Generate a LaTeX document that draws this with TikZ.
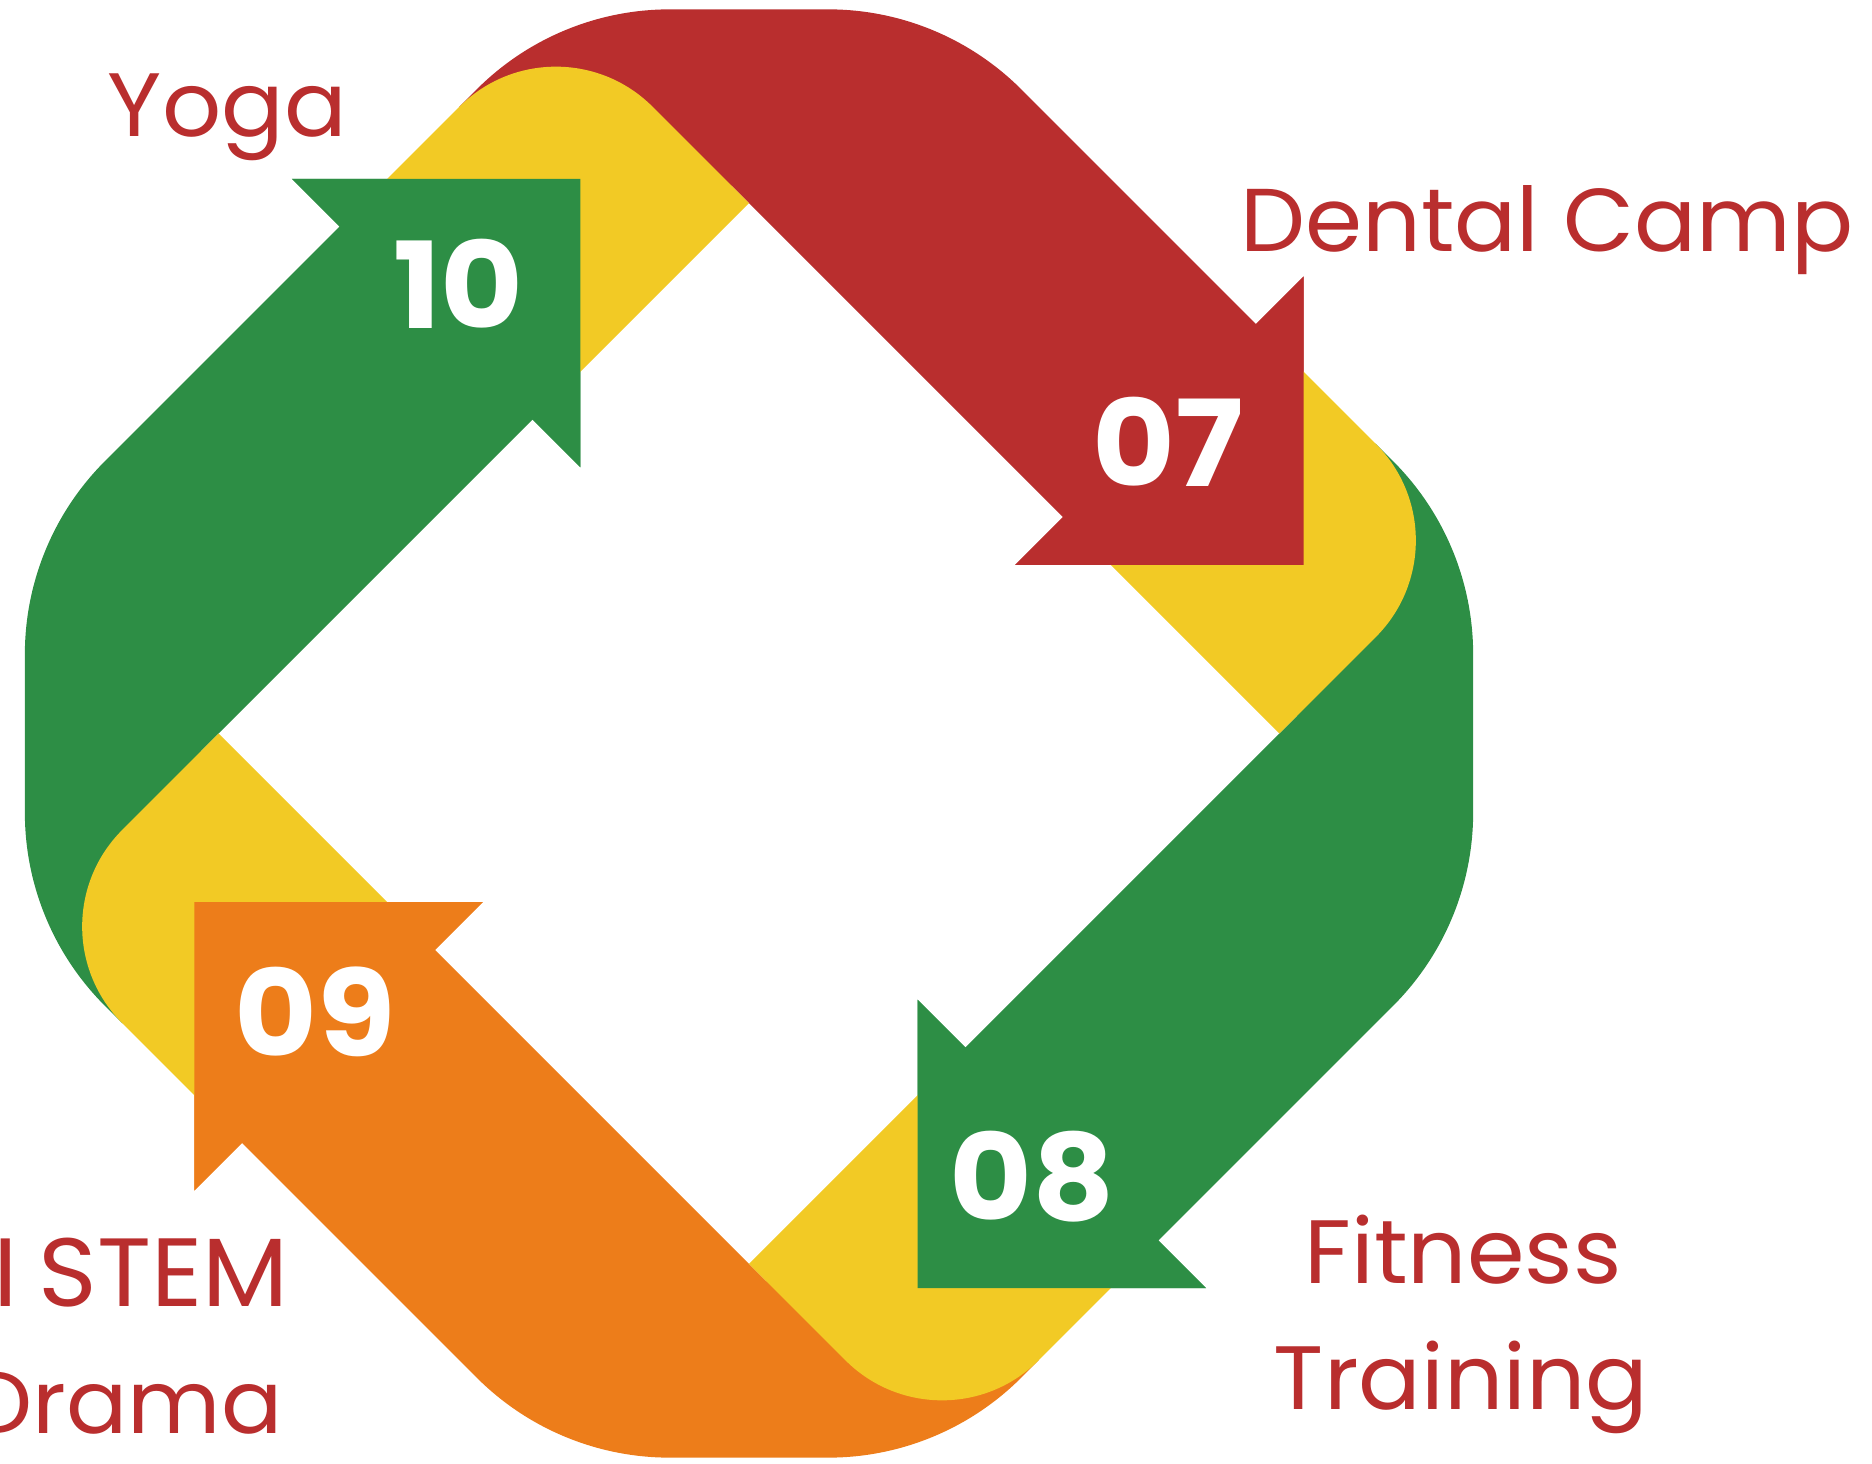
\documentclass[tikz,border=0pt]{standalone}
\usepackage{fontspec}
\setmainfont{Poppins}
\newfontfamily\stepfont{Poppins}[FakeStretch=1.06]
\newfontfamily\labelfont{Poppins}[FakeStretch=1.03]
\usepackage{xcolor}
\usetikzlibrary{calc}
\definecolor{loopred}{RGB}{185,46,46}
\definecolor{loopgreen}{RGB}{45,142,69}
\definecolor{looporange}{RGB}{237,125,26}
\definecolor{loopyellow}{RGB}{242,202,37}
\tikzset{
  band/.style={fill=#1},                 % one coloured arm of the loop
  fold/.style={fill=loopyellow},         % yellow turn under each head
  stepnum/.style={text=white, inner sep=0pt, font=\stepfont\fontsize{60}{72}\selectfont\bfseries},
  steplabel/.style={text=loopred, inner sep=0pt, font=\labelfont\fontsize{45}{54}\selectfont},
  biglabel/.style={steplabel, font=\labelfont\fontsize{48.5}{58}\selectfont}
}
% rotated frame: each arm turns the corner and runs along the top to its head
\newcommand{\DrawArm}[2]{%
  \fill[band=#1, rotate=#2] (-400,150) -- (-600,150) -- (-648,238.5) -- (-648,263)
    arc[start angle=180, end angle=135, radius=273] -- (-456.04,568.04)
    arc[start angle=135, end angle=90, radius=273] -- (69,648)
    -- (69,715.5) -- (273,511.5) -- (69,307.5) -- (69,375)
    -- (-400,375) -- cycle;%
}
\newcommand{\DrawFold}[1]{%
  \fill[fold, rotate=#1] (-375,100) -- (-375,375) -- (-511.5,375)
    arc[start angle=90, end angle=180, radius=136.5] -- (-648,100) -- cycle;%
}
\newcommand{\DrawHead}[2]{%
  \fill[band=#1, rotate=#2] (69,715.5) -- (273,511.5) -- (69,307.5) -- cycle;%
}

\begin{document}
\begin{tikzpicture}[x=0.5pt, y=0.5pt]
  \useasboundingbox (0,0) rectangle (1872,1463);
  \begin{scope}[shift={(749,729.5)}, rotate=-45]
    % arms, then the folds over their tails, then the heads on top
    \foreach \col/\ang in {loopred/0, loopgreen/-90, looporange/-180, loopgreen/-270}{\DrawArm{\col}{\ang}}
    \foreach \ang in {0,-90,-180,-270}{\DrawFold{\ang}}
    \foreach \col/\ang in {loopred/0, loopgreen/-90, looporange/-180, loopgreen/-270}{\DrawHead{\col}{\ang}}
  \end{scope}
  % step numbers
  \node[stepnum] (n07) at (1167.6,1021.3) {07};
  \node[stepnum] (n08) at (1032,286.6) {08};
  \node[stepnum] (n09) at (315,451.5) {09};
  \node[stepnum] (n10) at (458.4,1179.5) {10};
  % labels
  \node[steplabel, anchor=base west] (yoga) at (107.5,1326) {Yoga};
  \node[steplabel, font=\labelfont\fontsize{44.6}{54}\selectfont, anchor=base west] (dental) at (1240,1211) {Dental Camp};
  \node[steplabel, anchor=base] (fitness) at (1463,180) {Fitness};
  \node[steplabel, anchor=base] (training) at (1461,54) {Training};
  \node[biglabel, anchor=base east] (stem) at (289,157) {AI\hspace{-3pt} STEM};
  \node[steplabel, font=\labelfont\fontsize{44}{53}\selectfont, anchor=base east] (drama) at (283,30) {Drama};
\end{tikzpicture}
\end{document}
